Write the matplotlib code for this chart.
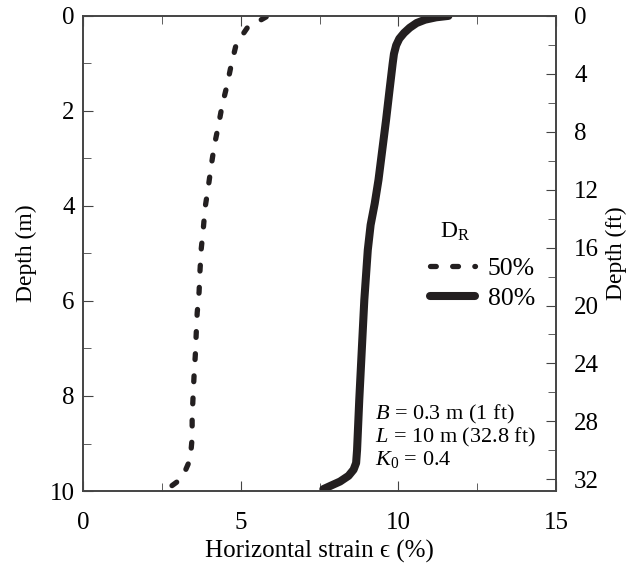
import matplotlib
matplotlib.use('Agg')
import matplotlib.pyplot as plt
from matplotlib.ticker import MultipleLocator

plt.rcParams['font.family'] = ['Liberation Serif', 'DejaVu Serif']
plt.rcParams['mathtext.fontset'] = 'custom'
plt.rcParams['mathtext.rm'] = 'Liberation Serif'
plt.rcParams['mathtext.it'] = 'Liberation Serif:italic'

# strain (%) vs depth (m)
depth_50 = [0.02, 0.25, 0.59, 1.03, 1.45, 1.89, 2.32, 2.74, 3.18, 3.61, 4.04, 4.51, 4.89,
            5.35, 5.81, 6.25, 6.67, 7.14, 7.58, 8.0, 8.44, 8.88, 9.33, 9.73, 9.96]
strain_50 = [5.81, 5.21, 4.86, 4.70, 4.57, 4.41, 4.29, 4.16, 4.06, 3.97, 3.87, 3.81, 3.75,
             3.71, 3.68, 3.62, 3.59, 3.56, 3.52, 3.49, 3.46, 3.46, 3.40, 3.14, 2.67]

depth_80 = [0.0, 0.03, 0.08, 0.15, 0.25, 0.36, 0.48, 0.62, 0.80, 1.0, 1.56, 2.19, 2.82, 3.45,
            3.95, 4.4, 4.93, 5.98, 7.03, 8.08, 9.14, 9.41, 9.55, 9.68, 9.8, 9.89, 9.96]
strain_80 = [11.59, 11.2, 10.85, 10.58, 10.36, 10.18, 10.03, 9.93, 9.86, 9.82, 9.72, 9.61, 9.49, 9.37,
             9.25, 9.12, 9.03, 8.92, 8.84, 8.76, 8.69, 8.66, 8.58, 8.42, 8.15, 7.85, 7.62]

ink = '#231f20'
spine = '#444444'

fig = plt.figure(figsize=(6.34, 5.67), dpi=100)
ax = fig.add_axes([0.131, 0.134, 0.746, 0.838])

ax.plot(strain_50, depth_50, color=ink, lw=3.8, dashes=(1.1, 3.1),
        dash_capstyle='round', label='50%')
ax.plot(strain_80, depth_80, color=ink, lw=5.8, solid_capstyle='round',
        solid_joinstyle='round', label='80%')

ax.set_xlim(0, 15)
ax.set_ylim(10, 0)
ax.xaxis.set_major_locator(MultipleLocator(5))
ax.xaxis.set_minor_locator(MultipleLocator(2.5))
ax.yaxis.set_major_locator(MultipleLocator(2))
ax.yaxis.set_minor_locator(MultipleLocator(1))
ax.tick_params(which='both', direction='in', top=True, right=False,
               color=spine, labelsize=18, pad=6)
ax.tick_params(which='major', length=7)
ax.tick_params(which='minor', length=6)
ax.tick_params(axis='x', pad=15)
for s in ax.spines.values():
    s.set_color(spine)
    s.set_linewidth(1.2)

ax.set_xlabel('Horizontal strain \u03f5 (%)', fontsize=18, labelpad=4)
ax.set_ylabel('Depth (m)', fontsize=17, labelpad=9)

ax2 = ax.twinx()
ax2.set_ylim(10 * 3.2808, 0)
ax2.yaxis.set_major_locator(MultipleLocator(4))
ax2.yaxis.set_minor_locator(MultipleLocator(2))
ax2.tick_params(which='both', direction='in', color=spine, labelsize=18, pad=13)
ax2.tick_params(which='major', length=7)
ax2.tick_params(which='minor', length=6)
for s in ax2.spines.values():
    s.set_color(spine)
    s.set_linewidth(1.2)
ax2.set_ylabel('Depth (ft)', fontsize=17, labelpad=5)

ax.text(0.755, 0.545, 'D$_\\mathrm{R}$', transform=ax.transAxes, fontsize=17,
        ha='left', va='center')
leg = ax.legend(loc='center left', bbox_to_anchor=(0.712, 0.437),
                frameon=False, fontsize=18.5, handlelength=1.75,
                handletextpad=0.5, labelspacing=0.3, borderaxespad=0)

ax.text(0.618, 0.115, '$B$ = 0.3 m (1 ft)\n$L$ = 10 m (32.8 ft)\n$K_0$ = 0.4',
        transform=ax.transAxes, fontsize=16, va='center', ha='left', linespacing=1.02)

fig.savefig('out.png', dpi=100)
